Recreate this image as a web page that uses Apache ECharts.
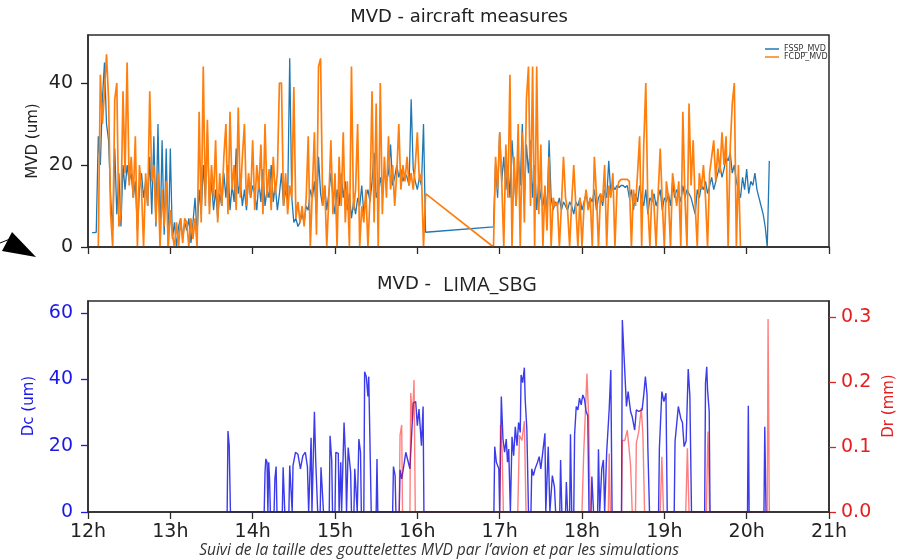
<html>
<head>
<meta charset="utf-8">
<script src="https://cdn.jsdelivr.net/npm/echarts@6/dist/echarts.min.js"></script>
<style>
html, body { margin: 0; padding: 0; background: #fff; }
#main { width: 907px; height: 559px; }
</style>
</head>
<body>
<div id="main"></div>
<script>

// aircraft measures, one value every 0.025 h (1.5 min)
var STEP = 0.025;

var fsspStart1 = 12.05;
var fsspVals1 = [
    3.5, 3.5, 3.6, 27, 20, 36, 45, 30, 26, 12,
    4, 24, 8, 18, 5, 20, 14, 20, 16, 18,
    12, 16, 4, 14, 18, 12, 16, 10, 22, 8,
    27, 5, 30, 2, 26, 3, 24, 0, 24, 2,
    6, 0, 5, 7, 2, 6, 4, 7, 1, 6,
    12, 3, 14, 8, 20, 12, 28, 10, 16, 9,
    14, 7, 13, 10, 18, 12, 20, 9, 15, 11,
    24, 13, 16, 10, 14, 9, 17, 12, 15, 13,
    9, 16, 11, 19, 10, 14, 12, 20, 11, 15,
    9, 13, 18, 10, 14, 11, 46, 12, 6, 7,
    5, 6, 8, 6, 10, 9, 14, 12, 16, 8,
    22, 13, 10, 15, 9, 13, 18, 12, 8, 14,
    10, 18, 12, 16, 9, 13, 7, 11, 8, 12,
    10, 15, 8, 12, 14, 11, 16, 23, 12, 14,
    17, 13, 19, 16, 18, 25, 15, 17, 20, 17,
    19, 16, 18, 17, 15, 36, 19, 16, 14, 17,
    15, 30, 3.6
];
var fsspStart2 = 16.925;
var fsspVals2 = [
    4.9, 20, 12, 28, 16, 22, 14, 20, 12, 26,
    18, 10, 22, 15, 30, 12, 25, 18, 26, 12,
    20, 9, 16, 12, 10, 14, 8, 26, 12, 9,
    11, 10, 12, 9, 11, 10, 9, 11, 10, 8,
    11, 10, 12, 9, 11, 13, 10, 12, 11, 14,
    9, 12, 13, 10, 14, 12, 21, 13, 15, 14,
    15, 14.5, 15, 15, 14.5, 15, 12, 14, 9, 13,
    11, 15, 12, 10, 14, 8, 12, 11, 13, 10,
    12, 14, 9, 12, 11, 13, 10, 16, 12, 14,
    13, 11, 15, 12, 14, 13, 12, 10, 8, 14,
    12, 15, 14, 16, 13, 15, 17, 14, 16, 18,
    20, 17, 19, 22, 21, 23, 18, 20, 16, 14,
    12, 17, 14, 19, 13, 16, 15, 18, 14, 12,
    10, 8, 5, 0, 21
];

var fcdpStart1 = 12.125;
var fcdpVals1 = [
    0, 42, 30, 38, 47, 36, 8, 0, 36, 40,
    5, 8, 38, 18, 45, 15, 22, 12, 27, 0,
    20, 14, 0, 18, 10, 38, 16, 20, 6, 18,
    0, 14, 5, 16, 0, 9, 3, 0, 6, 0,
    7, 1, 7, 6, 0, 7, 2, 7, 0, 33,
    6, 44, 10, 31, 8, 20, 12, 26, 6, 18,
    10, 22, 30, 8, 33, 14, 20, 9, 34, 12,
    22, 30, 10, 18, 12, 26, 9, 20, 14, 25,
    8, 30, 12, 19, 9, 22, 13, 18, 40, 40,
    10, 18, 8, 15, 12, 39, 7, 11, 6, 10,
    5, 12, 27, 0, 14, 28, 3, 44, 46, 10,
    15, 0, 12, 26, 8, 18, 0, 22, 10, 28,
    6, 16, 0, 44, 9, 14, 30, 0, 10, 6,
    14, 0, 12, 38, 6, 35, 0, 40, 8, 22,
    12, 27, 14, 20, 10, 18, 30, 14, 20, 16,
    22, 15, 18, 14, 20, 28, 16, 18, 0, 13
];
var fcdpStart2 = 16.925;
var fcdpVals2 = [
    0, 22, 14, 28, 16, 0, 25, 12, 42, 0,
    22, 10, 30, 0, 28, 6, 36, 44, 10, 44,
    0, 44, 8, 25, 0, 15, 4, 22, 0, 12,
    10, 11, 0, 10, 22, 12, 9, 0, 11, 20,
    10, 0, 12, 0, 10, 14, 9, 12, 0, 22,
    13, 0, 13, 11, 20, 0, 15, 12, 18, 0,
    14, 16, 16.5, 16.5, 16.5, 16.5, 16, 0, 14, 10,
    18, 27, 0, 25, 40, 10, 0, 14, 10, 0,
    13, 24, 11, 0, 16, 12, 0, 18, 14, 10,
    16, 0, 33, 12, 0, 35, 15, 26, 10, 0,
    18, 14, 20, 12, 0, 18, 22, 26, 16, 24,
    18, 28, 20, 27, 0, 24, 35, 40, 0, 20,
    0
];

// LIMA_SBG simulation, [hour, value]
var dcPoints = [
    [13.69, 0], [13.70, 24.4], [13.715, 20], [13.73, 0],
    [14.14, 0], [14.15, 12], [14.16, 16], [14.175, 15], [14.185, 0], [14.195, 15], [14.205, 10], [14.215, 0],
    [14.26, 0], [14.27, 10], [14.285, 13.7], [14.295, 0],
    [14.36, 0], [14.37, 13.5], [14.38, 13], [14.39, 0],
    [14.44, 0], [14.45, 14], [14.47, 14], [14.48, 0], [14.49, 14], [14.52, 18], [14.55, 17.4], [14.58, 13],
    [14.61, 17], [14.64, 18], [14.665, 13.7], [14.68, 0],
    [14.70, 0], [14.71, 22.4], [14.72, 0], [14.74, 0], [14.75, 30.2], [14.765, 16], [14.78, 15.6], [14.79, 0],
    [14.82, 0], [14.83, 13.5], [14.85, 13], [14.86, 0],
    [14.93, 0], [14.94, 23], [14.96, 15.6], [14.97, 0], [15.0, 0], [15.01, 18], [15.04, 17.7], [15.05, 0],
    [15.06, 0], [15.07, 15], [15.08, 0], [15.1, 0], [15.11, 27], [15.13, 15], [15.14, 0],
    [15.15, 0], [15.16, 19.4], [15.19, 12], [15.2, 0], [15.23, 0], [15.24, 13], [15.26, 13], [15.27, 0],
    [15.28, 0], [15.29, 22], [15.31, 18], [15.32, 0],
    [15.35, 0], [15.36, 42.3], [15.38, 40.8], [15.40, 34.8], [15.41, 40.8], [15.43, 13.7], [15.44, 0],
    [15.5, 0], [15.51, 16], [15.52, 0],
    [15.7, 0], [15.71, 13.7], [15.73, 11], [15.74, 0], [15.78, 0], [15.79, 12.7], [15.81, 10], [15.83, 13],
    [15.86, 18], [15.89, 15], [15.91, 13], [15.95, 32.8], [15.98, 33.3], [16.0, 26], [16.02, 31],
    [16.05, 20], [16.07, 31.8], [16.08, 0],
    [16.93, 0], [16.94, 19.7], [16.96, 15], [16.98, 15.4], [16.99, 13], [17.0, 0],
    [17.01, 0], [17.02, 34.8], [17.04, 22], [17.06, 18], [17.08, 22], [17.095, 15], [17.11, 19], [17.13, 0],
    [17.14, 0], [17.15, 22.7], [17.17, 17], [17.19, 25.7], [17.21, 20], [17.23, 27], [17.25, 24],
    [17.26, 41.3], [17.28, 39], [17.30, 43.5], [17.31, 34], [17.33, 25], [17.35, 0],
    [17.38, 0], [17.39, 13], [17.41, 11], [17.43, 13], [17.46, 15], [17.48, 16.7], [17.5, 13], [17.52, 13],
    [17.55, 23.7], [17.56, 0],
    [17.58, 0], [17.59, 19.7], [17.61, 0],
    [17.63, 0], [17.64, 11], [17.665, 7.6], [17.68, 0],
    [17.73, 0], [17.74, 15.7], [17.755, 0],
    [17.8, 0], [17.81, 9], [17.825, 0],
    [17.85, 0], [17.86, 23.4], [17.875, 0],
    [17.9, 0], [17.91, 23.2], [17.93, 31.8], [17.95, 30.8], [17.97, 34.3], [17.99, 32.3], [18.01, 35.3],
    [18.03, 34], [18.05, 30.3], [18.07, 29], [18.085, 0], [18.11, 0], [18.12, 10.7], [18.14, 0],
    [18.19, 0], [18.2, 18.9], [18.215, 0],
    [18.23, 0], [18.24, 13], [18.26, 15.7], [18.275, 0],
    [18.29, 0], [18.30, 18.2], [18.33, 30.8], [18.35, 42.8], [18.365, 0],
    [18.48, 0], [18.49, 57.9], [18.51, 47.3], [18.54, 31.8], [18.56, 36.3], [18.59, 30.3], [18.61, 28.7],
    [18.64, 24.7], [18.66, 30.8], [18.69, 30.3], [18.71, 30.3], [18.73, 30.8], [18.75, 35.3], [18.77, 40.8],
    [18.79, 35.3], [18.8, 19.2], [18.82, 0],
    [18.93, 0], [18.94, 19.2], [18.97, 36.3], [18.995, 33.3], [19.02, 35.8], [19.035, 0],
    [19.12, 0], [19.13, 21.2], [19.17, 31.8], [19.2, 28.2], [19.22, 27], [19.24, 19.7], [19.265, 21.5],
    [19.29, 43.1], [19.31, 35], [19.33, 0],
    [19.49, 0], [19.5, 38.8], [19.515, 43.8], [19.525, 36.8], [19.545, 30.3], [19.555, 0],
    [20.01, 0], [20.02, 32], [20.03, 0],
    [20.21, 0], [20.22, 25.7], [20.235, 0]
];

var drPoints = [
    [15.78, 0], [15.79, 0.118], [15.81, 0.134], [15.82, 0],
    [15.91, 0], [15.92, 0.183], [15.94, 0.14], [15.96, 0.203], [15.975, 0],
    [17.0, 0], [17.01, 0.134], [17.03, 0.093], [17.045, 0],
    [17.22, 0], [17.24, 0.118], [17.27, 0.11], [17.3, 0.14], [17.32, 0],
    [18.0, 0], [18.02, 0.088], [18.06, 0.213], [18.08, 0.149], [18.1, 0],
    [18.32, 0], [18.33, 0.09], [18.345, 0],
    [18.48, 0], [18.49, 0.11], [18.52, 0.11], [18.55, 0.126], [18.57, 0.1], [18.59, 0.072], [18.61, 0],
    [18.65, 0], [18.66, 0.106], [18.69, 0.124], [18.72, 0.16], [18.74, 0.118], [18.76, 0],
    [18.95, 0], [18.97, 0.085], [18.99, 0],
    [19.26, 0], [19.28, 0.098], [19.3, 0],
    [19.51, 0], [19.53, 0.124], [19.55, 0],
    [20.25, 0], [20.26, 0.297], [20.275, 0]
];

var hourTicks = [12, 13, 14, 15, 16, 17, 18, 19, 20, 21];
var mvdTicks = [0, 20, 40];
var dcTicks = [0, 20, 40, 60];
var drTicks = [0, 0.1, 0.2, 0.3];

function stepped(start, vals) {
    return vals.map(function (v, i) {
        return [+(start + i * STEP).toFixed(3), v];
    });
}

var fsspData = stepped(fsspStart1, fsspVals1).concat(stepped(fsspStart2, fsspVals2));
var fcdpData = stepped(fcdpStart1, fcdpVals1).concat(stepped(fcdpStart2, fcdpVals2));

var FONT = 'DejaVu Sans';
var frame = '#2b2b2b';
var dcColor = '#1a1ae6';
var drColor = '#e52020';

function xAxisOf(grid, labels) {
    return {
        gridIndex: grid,
        type: 'value',
        min: hourTicks[0],
        max: hourTicks[hourTicks.length - 1],
        interval: 1,
        z: 10,
        axisLine: { lineStyle: { color: frame, width: 1.5 } },
        axisTick: { length: 7, lineStyle: { color: frame, width: 1.3 } },
        splitLine: { show: false },
        axisLabel: {
            show: labels,
            margin: 11,
            fontFamily: FONT,
            fontSize: 19,
            color: '#222',
            formatter: function (v) { return v + 'h'; }
        }
    };
}

function yAxisOf(grid, pos, max, ticks, color, fmt) {
    return {
        gridIndex: grid,
        type: 'value',
        position: pos,
        min: 0,
        max: max,
        z: 10,
        axisLine: { show: true, lineStyle: { color: frame, width: 1.5 } },
        axisTick: { show: true, length: 7, customValues: ticks, lineStyle: { color: color, width: 1.3 } },
        splitLine: { show: false },
        axisLabel: {
            customValues: ticks,
            margin: pos === 'right' ? 12 : 15,
            fontFamily: FONT,
            fontSize: 19,
            color: color,
            formatter: fmt
        }
    };
}

var myChart = echarts.init(document.getElementById('main'));

var option = {
    animation: false,
    backgroundColor: '#fff',
    grid: [
        { left: 88, right: 78, top: 35, height: 212, show: true, borderColor: frame, borderWidth: 1.5 },
        { left: 88, right: 78, top: 301, height: 211, show: true, borderColor: frame, borderWidth: 1.5 }
    ],
    legend: {
        data: ['FSSP_MVD', 'FCDP_MVD'],
        orient: 'vertical',
        left: 760,
        top: 40,
        icon: 'rect',
        itemWidth: 14,
        itemHeight: 1.5,
        itemGap: 0,
        textStyle: { fontFamily: FONT, fontSize: 8, color: '#333' }
    },
    xAxis: [xAxisOf(0, false), xAxisOf(1, true)],
    yAxis: [
        yAxisOf(0, 'left', 51.7, mvdTicks, '#222', function (v) { return v; }),
        yAxisOf(1, 'left', 63.6, dcTicks, dcColor, function (v) { return v; }),
        yAxisOf(1, 'right', 0.3246, drTicks, drColor, function (v) { return v.toFixed(1); })
    ],
    series: [
        {
            name: 'FSSP_MVD',
            type: 'line',
            xAxisIndex: 0,
            yAxisIndex: 0,
            data: fsspData,
            showSymbol: false,
            lineStyle: { color: '#1f77b4', width: 1.3 },
            itemStyle: { color: '#1f77b4' }
        },
        {
            name: 'FCDP_MVD',
            type: 'line',
            xAxisIndex: 0,
            yAxisIndex: 0,
            data: fcdpData,
            showSymbol: false,
            lineStyle: { color: '#ff7f0e', width: 1.7 },
            itemStyle: { color: '#ff7f0e' }
        },
        {
            name: 'Dc',
            type: 'line',
            xAxisIndex: 1,
            yAxisIndex: 1,
            data: dcPoints,
            showSymbol: false,
            lineStyle: { color: 'rgba(10,10,230,0.8)', width: 1.4 }
        },
        {
            name: 'Dr',
            type: 'line',
            xAxisIndex: 1,
            yAxisIndex: 2,
            data: drPoints,
            showSymbol: false,
            lineStyle: { color: 'rgba(255,0,0,0.5)', width: 1.4 }
        }
    ],
    graphic: {
        elements: [
            {
                type: 'text', x: 459, y: 17,
                style: { text: 'MVD - aircraft measures', font: '18px "DejaVu Sans"', fill: '#222', align: 'center', verticalAlign: 'middle', textAlign: 'center', textVerticalAlign: 'middle' }
            },
            {
                type: 'text', x: 33, y: 141, rotation: Math.PI / 2,
                style: { text: 'MVD (um)', font: '15px "DejaVu Sans"', fill: '#222', align: 'center', verticalAlign: 'middle', textAlign: 'center', textVerticalAlign: 'middle' }
            },
            {
                type: 'text', x: 431, y: 284,
                style: { text: 'MVD -', font: '18px "DejaVu Sans"', fill: '#222', align: 'right', verticalAlign: 'middle', textAlign: 'right', textVerticalAlign: 'middle' }
            },
            {
                type: 'text', x: 443, y: 285,
                style: { text: 'LIMA_SBG', font: '20px "Open Sans"', fill: '#222', align: 'left', verticalAlign: 'middle', textAlign: 'left', textVerticalAlign: 'middle' }
            },
            {
                type: 'text', x: 29, y: 406, rotation: Math.PI / 2,
                style: { text: 'Dc (um)', font: '15px "DejaVu Sans"', fill: dcColor, align: 'center', verticalAlign: 'middle', textAlign: 'center', textVerticalAlign: 'middle' }
            },
            {
                type: 'text', x: 889, y: 406, rotation: Math.PI / 2,
                style: { text: 'Dr (mm)', font: '15px "DejaVu Sans"', fill: drColor, align: 'center', verticalAlign: 'middle', textAlign: 'center', textVerticalAlign: 'middle' }
            },
            {
                type: 'text', x: 439, y: 551,
                style: { text: 'Suivi de la taille des gouttelettes MVD par l\u2019avion et par les simulations', font: 'italic 15.5px "Open Sans"', fill: '#333', align: 'center', verticalAlign: 'middle', textAlign: 'center', textVerticalAlign: 'middle' }
            },
            {
                type: 'polygon',
                shape: { points: [[12, 232], [2, 251], [36, 257]] },
                style: { fill: '#000' }
            },
            {
                type: 'line',
                shape: { x1: 0, y1: 243, x2: 10, y2: 239 },
                style: { stroke: '#000', lineWidth: 1 }
            }
        ]
    }
};

myChart.setOption(option);

</script>
</body>
</html>
